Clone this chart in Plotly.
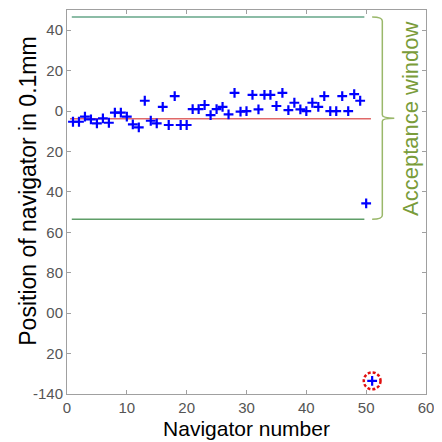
import plotly.graph_objects as go

nav_x = list(range(1, 52))
nav_y = [-5.3, -5.3, -2.8, -4.1, -6.1, -3.6, -5.8, -0.8, -0.8, -2.8,
         -6.6, -8.1, 5.1, -4.8, -6.1, 2.1, -6.9, 7.4, -6.9, -6.9,
         1.0, 1.0, 3.0, -2.0, 1.0, 2.1, -1.6, 9.0, -0.3, 0.0,
         8.0, 0.8, 8.0, 8.0, 2.5, 9.0, 0.5, 4.1, 0.8, 0.0,
         4.1, 2.1, 7.4, 0.0, 0.0, 7.4, 0.0, 8.4, 5.1, -45.7,
         -133.5]
mean_level = -3.8
window_top = 46.5
window_bottom = -53.5
ytick_vals = [40, 20, 0, -20, -40, -60, -80, -100, -120, -140]
ytick_text = ["40", "20", "0", "20", "40", "60", "80", "00", "20", "-140"]
xtick_vals = [0, 10, 20, 30, 40, 50, 60]

fig = go.Figure()
fig.add_trace(go.Scatter(x=[0.5, 50.8], y=[mean_level, mean_level], mode="lines",
                         line=dict(color="#e06868", width=1.5), hoverinfo="skip"))
fig.add_trace(go.Scatter(x=[0.8, 49.7], y=[window_top, window_top], mode="lines",
                         line=dict(color="#66a688", width=1.5), hoverinfo="skip"))
fig.add_trace(go.Scatter(x=[0.8, 49.7], y=[window_bottom, window_bottom], mode="lines",
                         line=dict(color="#5f9e68", width=1.5), hoverinfo="skip"))
fig.add_trace(go.Scatter(x=nav_x, y=nav_y, mode="markers",
                         marker=dict(symbol="cross-thin", size=7,
                                     line=dict(color="#0000ff", width=2.2))))

# dashed circle around outlier
cx, cy = nav_x[-1], nav_y[-1]
fig.add_shape(type="circle", xref="x", yref="y",
              x0=cx - 1.4, x1=cx + 1.4, y0=cy - 4.2, y1=cy + 4.2,
              line=dict(color="#e01010", width=2.5, dash="3px,2px"))

# bracket
bx = 52.7
mid = (window_top + window_bottom) / 2
path = (f"M 51,{window_top} Q {bx},{window_top} {bx},{window_top - 2} "
        f"L {bx},{mid + 1.5} Q {bx},{mid} 54.7,{mid} Q {bx},{mid} {bx},{mid - 1.5} "
        f"L {bx},{window_bottom + 2} Q {bx},{window_bottom} 51,{window_bottom}")
fig.add_shape(type="path", xref="x", yref="y", path=path,
              line=dict(color="#9ab86a", width=1.5))

fig.add_annotation(x=57.3, y=mid, xref="x", yref="y", text="Acceptance window",
                   textangle=-90, showarrow=False,
                   font=dict(family="Arial, Liberation Sans", size=22, color="#7a9c3a"))

fig.add_annotation(x=-0.109, y=0.529, xref="paper", yref="paper",
                   text="Position of navigator in 0.1mm", textangle=-90,
                   showarrow=False, xanchor="center", yanchor="middle",
                   font=dict(family="Arial, Liberation Sans", size=23, color="black"))

axis_common = dict(showgrid=False, zeroline=False, showline=True, linecolor="#a0a0a0",
                   linewidth=1, mirror="ticks", ticks="inside", ticklen=4,
                   tickcolor="#a0a0a0", automargin=False,
                   tickfont=dict(family="Arial, Liberation Sans", size=15, color="#555555"))

fig.update_layout(
    width=434, height=434, showlegend=False,
    paper_bgcolor="white", plot_bgcolor="white",
    margin=dict(l=59, r=16, t=2, b=48),
    xaxis=dict(range=[0, 60], tickvals=xtick_vals,
               title=dict(text="Navigator number", standoff=6,
                          font=dict(family="Arial, Liberation Sans", size=21, color="black")),
               **axis_common),
    yaxis=dict(range=[-140, 50], tickvals=ytick_vals, ticktext=ytick_text,
               **axis_common),
)

fig.write_html("out.html")
